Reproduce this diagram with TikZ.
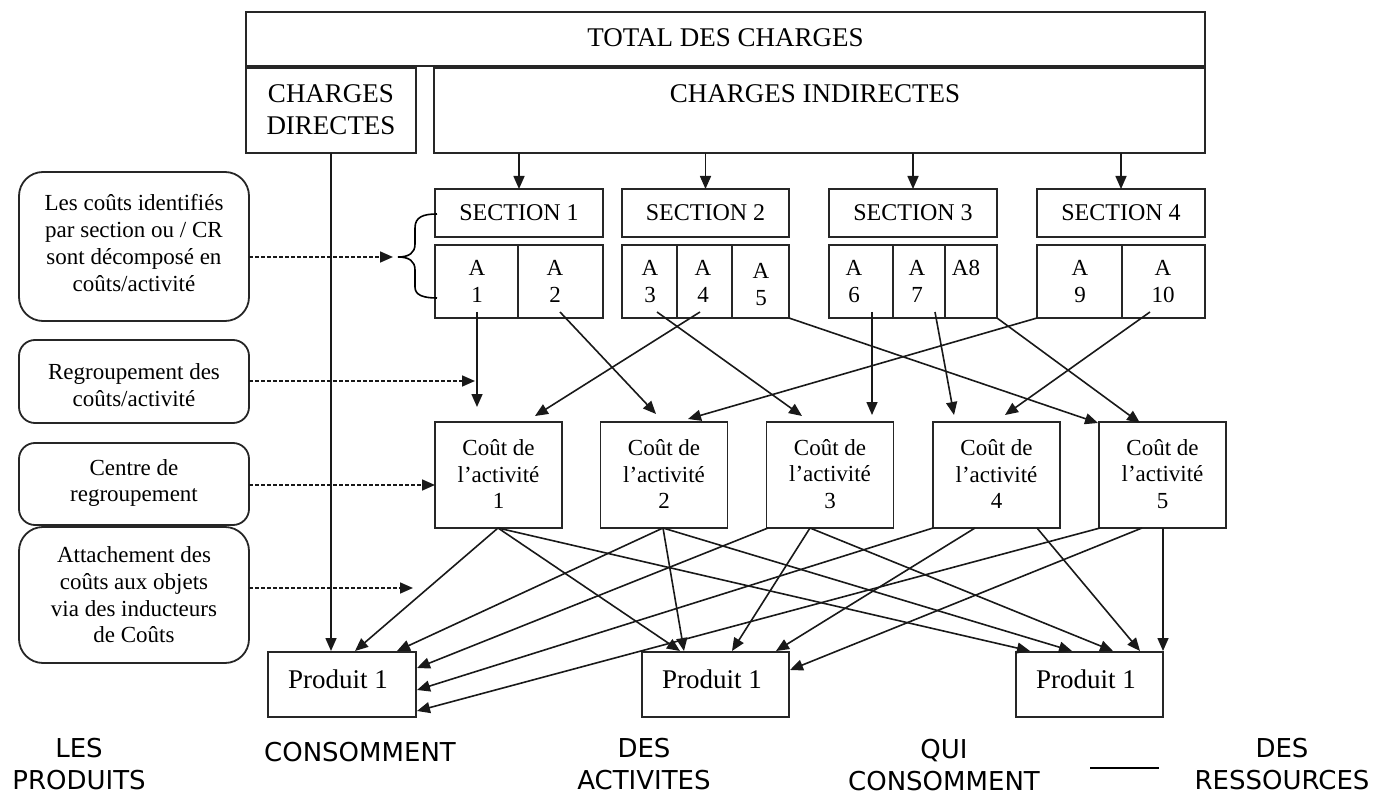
\documentclass[tikz,border=0pt]{standalone}
\usepackage{fontspec}
\setmainfont{Liberation Serif}
\newfontfamily\bsans{DejaVu Sans}
\usetikzlibrary{arrows.meta,calc}
\begin{document}
\begin{tikzpicture}[x=1pt,y=-1pt,
  box/.style={draw=black!85, line width=1.8pt, inner sep=0pt, outer sep=0pt},
  rbox/.style={draw=black!85, line width=1.8pt, inner sep=0pt, outer sep=0pt, rounded corners=#1},
  ar/.style={draw=black!90, line width=1.6pt, -{Triangle[length=13pt,width=11pt]}},
  dar/.style={draw=black!90, line width=1.6pt, dash pattern=on 4pt off 2pt, -{Triangle[length=13pt,width=11pt]}},
  big/.style={font=\fontsize{27}{32}\selectfont, align=center, inner sep=0pt},
  mid/.style={font=\fontsize{23}{26.7}\selectfont, align=center, inner sep=0pt},
  sec/.style={font=\fontsize{24}{28}\selectfont, inner sep=0pt},
  bot/.style={font=\bsans\fontsize{26}{32}\selectfont, align=center, inner sep=0pt},
]
\useasboundingbox (0,0) rectangle (1384,794);

% ---------- top boxes
\node[box, minimum width=959pt, minimum height=54pt] (total) at (725.5,39) {};
\node[big] (totalt) at (725.5,38) {TOTAL DES CHARGES};
\node[box, minimum width=170pt, minimum height=85pt] (cd) at (331,110.5) {};
\node[big] (cdt) at (331,110) {CHARGES\\DIRECTES};
\node[box, minimum width=771pt, minimum height=85pt] (ci) at (819.5,110.5) {};
\node[big] (cit) at (815,94) {CHARGES INDIRECTES};

% ---------- sections
\node[box, minimum width=168pt, minimum height=48pt] (s1) at (519,213) {};
\node[box, minimum width=167pt, minimum height=48pt] (s2) at (705.5,213) {};
\node[box, minimum width=168pt, minimum height=48pt] (s3) at (913,213) {};
\node[box, minimum width=168pt, minimum height=48pt] (s4) at (1121,213) {};
\node[sec] (s1t) at (519,213) {SECTION 1};
\node[sec] (s2t) at (705.5,213) {SECTION 2};
\node[sec] (s3t) at (913,213) {SECTION 3};
\node[sec] (s4t) at (1121,213) {SECTION 4};

% ---------- activity cells
\node[box, minimum width=83pt, minimum height=73pt] (a1) at (476.5,281.5) {};
\node[box, minimum width=85pt, minimum height=73pt] (a2) at (560.5,281.5) {};
\node[box, minimum width=55pt, minimum height=73pt] (a3) at (649.5,281.5) {};
\node[box, minimum width=55pt, minimum height=73pt] (a4) at (704.5,281.5) {};
\node[box, minimum width=57pt, minimum height=73pt] (a5) at (760.5,281.5) {};
\node[box, minimum width=64pt, minimum height=73pt] (a6) at (861,281.5) {};
\node[box, minimum width=52pt, minimum height=73pt] (a7) at (919,281.5) {};
\node[box, minimum width=52pt, minimum height=73pt] (a8) at (971,281.5) {};
\node[box, minimum width=85pt, minimum height=73pt] (a9) at (1079.5,281.5) {};
\node[box, minimum width=83pt, minimum height=73pt] (a10) at (1163.5,281.5) {};
\node[mid] (a1t) at (477,281.5) {A\\1};
\node[mid] (a2t) at (555,281.5) {A\\2};
\node[mid] (a3t) at (650,281.5) {A\\3};
\node[mid] (a4t) at (703,281.5) {A\\4};
\node[mid] (a5t) at (761,284.5) {A\\5};
\node[mid] (a6t) at (854,281.5) {A\\6};
\node[mid] (a7t) at (917,281.5) {A\\7};
\node[mid] (a8t) at (966,268) {A8};
\node[mid] (a9t) at (1080,281.5) {A\\9};
\node[mid] (a10t) at (1163,281.5) {A\\10};

% ---------- cost boxes
\foreach \i/\x in {1/498.5,2/664,3/830,4/996.5,5/1162.5}{
  \node[box, minimum width=127pt, minimum height=106pt] (c\i) at (\x,475) {};
  \node[mid] (c\i t) at (\x,474) {Coût de\\l’activité\\\i};
}

% ---------- products
\node[box, minimum width=148pt, minimum height=65pt] (p1) at (342,684.5) {};
\node[box, minimum width=147pt, minimum height=65pt] (p2) at (715.5,684.5) {};
\node[box, minimum width=147pt, minimum height=65pt] (p3) at (1089.5,684.5) {};
\node[big] (p1t) at (338,679) {Produit 1};
\node[big] (p2t) at (712,679) {Produit 1};
\node[big] (p3t) at (1086,679) {Produit 1};

% ---------- left rounded boxes
\node[rbox=24pt, minimum width=230pt, minimum height=149pt] (lb1) at (134,246.5) {};
\node[rbox=16pt, minimum width=230pt, minimum height=83pt] (lb2) at (134,381.5) {};
\node[rbox=16pt, minimum width=230pt, minimum height=82pt] (lb3) at (134,484) {};
\node[rbox=24pt, minimum width=230pt, minimum height=136pt] (lb4) at (134,595) {};
\node[mid] (lb1t) at (134,243) {Les coûts identifiés\\par section ou / CR\\sont décomposé en\\coûts/activité};
\node[mid] (lb2t) at (134,385) {Regroupement des\\coûts/activité};
\node[mid] (lb3t) at (134,483) {Centre de\\regroupement};
\node[mid] (lb4t) at (134,595) {Attachement des\\coûts aux objets\\via des inducteurs\\de Coûts};

% ---------- brace
\draw[line width=1.6pt] (437,214) .. controls (423,214) and (415,217) .. (415,228) -- (415,244)
  .. controls (415,253) and (409,257) .. (398,257)
  .. controls (409,257) and (415,261) .. (415,270) -- (415,287)
  .. controls (415,295) and (423,298) .. (437,298);

% ---------- dashed arrows
\coordinate (d1s) at (249,257); \coordinate (d1e) at (393,257);
\coordinate (d2s) at (249,381); \coordinate (d2e) at (475,381);
\coordinate (d3s) at (249,485); \coordinate (d3e) at (435,485);
\coordinate (d4s) at (249,588); \coordinate (d4e) at (413,588);
\draw[dar] (d1s) -- (d1e);
\draw[dar] (d2s) -- (d2e);
\draw[dar] (d3s) -- (d3e);
\draw[dar] (d4s) -- (d4e);

% ---------- charges -> sections
\foreach \i/\x in {1/519,2/705.5,3/913,4/1121}{
  \coordinate (ci\i) at (\x,153);
  \draw[ar] (ci\i) -- (s\i.north);
}
% charges directes -> produit 1
\coordinate (cds) at (331,153);
\coordinate (p1d) at (331,651);
\draw[ar] (cds) -- (p1d);

% ---------- activities -> cost boxes
\coordinate (a1s) at (477,312);  \coordinate (e1) at (477,407);
\coordinate (a2s) at (560,312);  \coordinate (e2) at (656,414);
\coordinate (a3s) at (657,312);  \coordinate (e3) at (802,416);
\coordinate (a4s) at (700,312);  \coordinate (e4) at (535,416);
\coordinate (a5s) at (789,318);  \coordinate (e5) at (1098,423);
\coordinate (a6s) at (872,312);  \coordinate (e6) at (872,415);
\coordinate (a7s) at (935,312);  \coordinate (e7) at (954,415);
\coordinate (a8s) at (997,318);  \coordinate (e8) at (1140,423);
\coordinate (a9s) at (1037,318); \coordinate (e9) at (688,419);
\coordinate (a10s) at (1150,312); \coordinate (e10) at (1005,415);
\foreach \i in {1,...,10}{ \draw[ar] (a\i s) -- (e\i); }

% ---------- cost boxes -> products
\coordinate (c1b) at (498,528);
\coordinate (c2b) at (663,528);
\coordinate (c3a) at (768,528);
\coordinate (c3b) at (810,528);
\coordinate (c4a) at (933,528);
\coordinate (c4b) at (975,528);
\coordinate (c4c) at (1037,528);
\coordinate (c5a) at (1100,528);
\coordinate (c5b) at (1142,528);
\coordinate (c5c) at (1163,528);

\coordinate (p1a) at (355,651);
\coordinate (p1b) at (397,651);
\coordinate (p1c) at (417,668);
\coordinate (p1e) at (417,690);
\coordinate (p1f) at (417,711);
\coordinate (p2a) at (680,651);
\coordinate (p2b) at (684,651);
\coordinate (p2c) at (732,651);
\coordinate (p2e) at (776,651);
\coordinate (p2f) at (790,670);
\coordinate (p3a) at (1030,651);
\coordinate (p3b) at (1072,651);
\coordinate (p3c) at (1113,651);
\coordinate (p3e) at (1140,651);
\coordinate (p3f) at (1163,651);

\draw[ar] (c1b) -- (p1a);
\draw[ar] (c1b) -- (p2a);
\draw[ar] (c1b) -- (p3a);
\draw[ar] (c2b) -- (p1b);
\draw[ar] (c2b) -- (p2b);
\draw[ar] (c2b) -- (p3b);
\draw[ar] (c3a) -- (p1c);
\draw[ar] (c3b) -- (p2c);
\draw[ar] (c3b) -- (p3c);
\draw[ar] (c4a) -- (p1e);
\draw[ar] (c4b) -- (p2e);
\draw[ar] (c4c) -- (p3e);
\draw[ar] (c5a) -- (p1f);
\draw[ar] (c5b) -- (p2f);
\draw[ar] (c5c) -- (p3f);

% ---------- bottom texts
\node[bot] (t1) at (79,764) {LES\\PRODUITS};
\node[bot] (t2) at (360,752) {CONSOMMENT};
\node[bot] (t3) at (644,764) {DES\\ACTIVITES};
\node[bot] (t4) at (944,765) {QUI\\CONSOMMENT};
\coordinate (l1) at (1090,768); \coordinate (l2) at (1159,768);
\draw[line width=2pt] (l1) -- (l2);
\node[bot] (t5) at (1282,764) {DES\\RESSOURCES};
\end{tikzpicture}
\end{document}
